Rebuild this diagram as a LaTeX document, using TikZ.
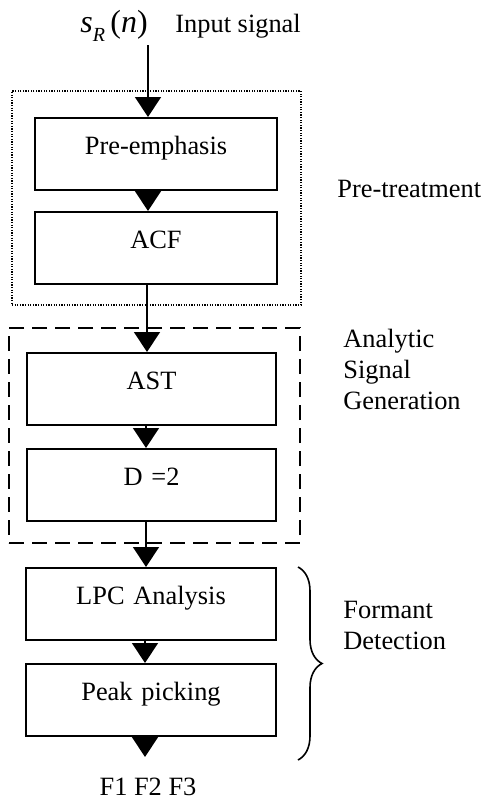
\documentclass[tikz,border=0pt]{standalone}
\usepackage{fontspec}
\setmainfont{Liberation Serif}
\usetikzlibrary{arrows.meta,decorations.pathreplacing}
\begin{document}
\begin{tikzpicture}[x=0.5pt,y=-0.5pt,
  stepbox/.style={draw,line width=1pt,inner sep=0pt,text height=18pt,text depth=18pt,align=center,font=\fontsize{13.2}{15}\selectfont},
  lbl/.style={anchor=base west,inner sep=0pt,font=\fontsize{13.2}{15.5}\selectfont,align=left},
  arr/.style={line width=0.7pt,-{Triangle[width=13pt,length=10pt]}},
  dotbox/.style={draw,line width=0.6pt,dash pattern=on 0.6pt off 0.7pt,inner sep=0pt},
  dashbox/.style={draw,line width=0.9pt,dash pattern=on 7.5pt off 4pt,inner sep=0pt}]
\useasboundingbox (0,0) rectangle (492,798);
% group frames
\node[dotbox,minimum width=144.5pt,minimum height=107pt] (pt) at (156.5,198) {};
\node[dashbox,minimum width=145.5pt,minimum height=107.5pt] (asg) at (154.5,435.5) {};
% boxes
\node[stepbox,text width=121pt] (pre) at (156,117) [anchor=north] {Pre-emphasis};
\node[stepbox,text width=121pt] (acf) at (156,211) [anchor=north] {ACF};
\node[stepbox,text width=124.5pt] (ast) at (151.5,352) [anchor=north] {AST};
\node[stepbox,text width=124.5pt] (dd) at (151.5,448) [anchor=north] {D =2};
\node[stepbox,text width=125pt] (lpc) at (151,567) [anchor=north] {LPC Analysis};
\node[stepbox,text width=125pt] (pk) at (151,663) [anchor=north] {Peak picking};
% input / output
\node[anchor=base west,inner sep=0pt] (sig) at (80,32) {\fontsize{16}{18}\selectfont\textit{s}\raisebox{-0.3em}{\fontsize{10}{12}\selectfont\textit{R}}\,(\textit{n})};
\node[lbl] (insig) at (175,32) {Input signal};
\coordinate (top) at (148,45);
\coordinate (bot) at (145,757);
\node[anchor=base,inner sep=0pt,font=\fontsize{13.2}{15}\selectfont] (out) at (148,795) {F1 F2 F3};
% arrows
\draw[arr] (top) -- (top |- pre.north);
\draw[arr] (pre.south -| top) -- (acf.north -| top);
\draw[arr] (acf.south -| 147,0) -- (ast.north -| 147,0);
\draw[arr] (ast.south -| 146,0) -- (dd.north -| 146,0);
\draw[arr] (dd.south -| 146,0) -- (lpc.north -| 146,0);
\draw[arr] (lpc.south -| bot) -- (pk.north -| bot);
\draw[arr] (pk.south -| bot) -- (bot);
% side labels
\node[lbl] (lpt) at (337,197) {Pre-treatment};
\node[lbl] (lasg) at (343,409) {Analytic\\Signal\\Generation};
\coordinate (b1) at (298,567);
\coordinate (b2) at (298,760);
\draw[line width=0.8pt,decorate,decoration={brace,amplitude=12pt}] (b1) -- (b2);
\node[lbl] (lfd) at (343,649) {Formant\\Detection};
\end{tikzpicture}
\end{document}
